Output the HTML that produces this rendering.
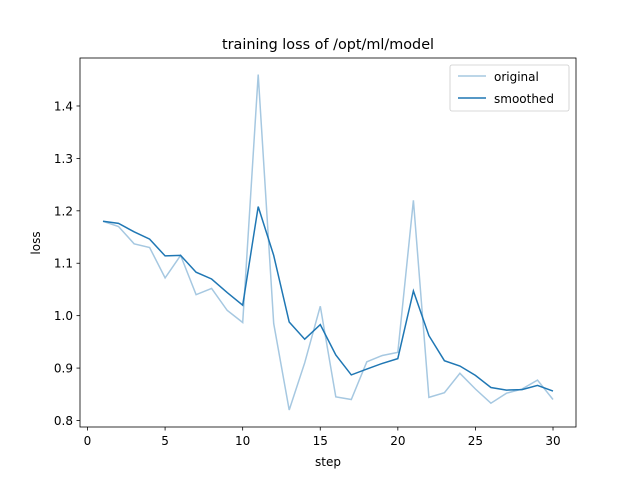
<!DOCTYPE html>
<html><head><meta charset="utf-8"><style>
body{margin:0;background:#fff}
svg text{font-family:"DejaVu Sans","Liberation Sans",sans-serif;fill:#000}
</style></head><body>
<svg id="s" width="640" height="480" xmlns="http://www.w3.org/2000/svg">
<rect width="640" height="480" fill="#fff"/>
<text x="328" y="49" font-size="14.4" text-anchor="middle">training loss of /opt/ml/model</text>
<g id="g"></g>
<rect x="80" y="58" width="496" height="369" fill="none" stroke="#000" stroke-width="0.8"/>
<text x="328" y="466" font-size="12" text-anchor="middle">step</text>
<text x="40" y="243" font-size="12" text-anchor="middle" transform="rotate(-90 40 243)">loss</text>
<rect x="450" y="65" width="119" height="46" rx="2" fill="#fff" fill-opacity="0.8" stroke="#ccc" stroke-width="0.8"/>
<line x1="458" y1="76" x2="486" y2="76" stroke="#a6c8e1" stroke-width="1.5"/>
<text x="494" y="81" font-size="12">original</text>
<line x1="458" y1="98" x2="486" y2="98" stroke="#1f77b4" stroke-width="1.5"/>
<text x="494" y="103" font-size="12">smoothed</text>
</svg>
<script>
var o=[1.18,1.17,1.137,1.13,1.072,1.115,1.04,1.052,1.01,0.987,1.46,0.985,0.82,0.91,1.018,0.845,0.84,0.912,0.924,0.93,1.22,0.844,0.853,0.89,0.86,0.833,0.852,0.86,0.877,0.84];
var m=[1.18,1.176,1.16,1.146,1.114,1.115,1.083,1.07,1.044,1.02,1.208,1.115,0.988,0.955,0.983,0.925,0.887,0.898,0.909,0.918,1.047,0.962,0.914,0.904,0.886,0.863,0.858,0.859,0.867,0.856];
function X(s){return 87.5+s*15.517}
function Y(v){return 420.5-(v-0.8)*524.2}
var h='';
for(var t=0;t<=30;t+=5){var x=X(t);h+='<line x1="'+x+'" y1="427" x2="'+x+'" y2="430.5" stroke="#000" stroke-width="0.8"/><text x="'+x+'" y="445" font-size="12" text-anchor="middle">'+t+'</text>';}
for(var k=0;k<=6;k++){var v=0.8+k*0.1,y=Y(v);h+='<line x1="76.5" y1="'+y+'" x2="80" y2="'+y+'" stroke="#000" stroke-width="0.8"/><text x="73" y="'+(y+4.5)+'" font-size="12" text-anchor="end">'+v.toFixed(1)+'</text>';}
function P(a,c){return '<polyline fill="none" stroke="'+c+'" stroke-width="1.5" points="'+a.map(function(v,i){return X(i+1).toFixed(1)+','+Y(v).toFixed(1)}).join(' ')+'"/>'}
h+=P(o,'#a6c8e1')+P(m,'#1f77b4');
document.getElementById('g').innerHTML=h;
</script>
</body></html>
